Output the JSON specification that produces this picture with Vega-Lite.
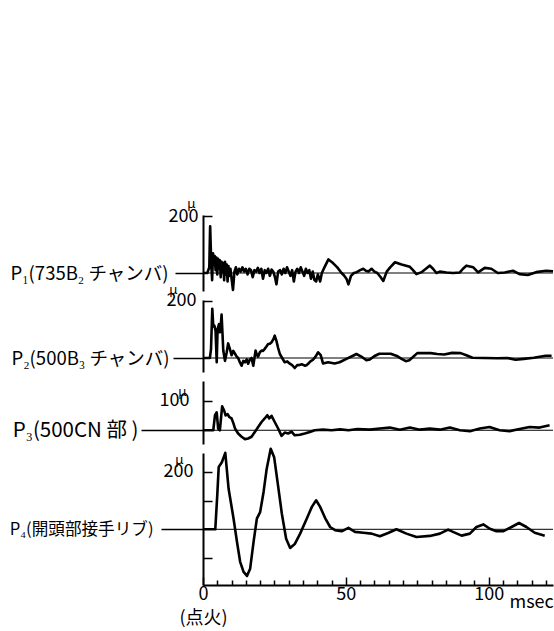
{
 "$schema": "https://vega.github.io/schema/vega-lite/v6.json",
 "background": "white",
 "padding": {"left": 9, "top": 198, "right": 0, "bottom": 0},
 "spacing": 9,
 "bounds": "flush",
 "config": {
  "view": {"stroke": null},
  "font": "Noto Sans CJK JP",
  "axis": {"grid": false, "domainColor": "black", "domainWidth": 2, "tickColor": "black", "tickWidth": 1.5, "labelColor": "black", "labelFont": "Noto Sans CJK JP", "labelFontSize": 18, "labelLimit": 0, "labelFlush": false, "labelOverlap": false, "labelBound": false, "titleColor": "black"},
  "axisQuantitative": {"labelOverlap": false},
  "axisX": {"labelOverlap": false}
 },
 "datasets": {
  "p1": [{"t":0,"v":0},{"t":1.5,"v":0},{"t":2.2,"v":20},{"t":2.5,"v":165},{"t":2.9,"v":30},{"t":3.2,"v":-25},{"t":3.5,"v":70},{"t":3.8,"v":30},{"t":4.1,"v":60},{"t":4.4,"v":10},{"t":4.7,"v":55},{"t":5.0,"v":-5},{"t":5.3,"v":50},{"t":5.6,"v":15},{"t":5.9,"v":45},{"t":6.2,"v":-15},{"t":6.5,"v":40},{"t":6.8,"v":5},{"t":7.1,"v":35},{"t":7.4,"v":-25},{"t":7.7,"v":40},{"t":8.0,"v":-5},{"t":8.3,"v":30},{"t":8.6,"v":-30},{"t":8.9,"v":25},{"t":9.2,"v":-10},{"t":9.6,"v":15},{"t":10.0,"v":-20},{"t":10.5,"v":-60},{"t":11.0,"v":5},{"t":11.5,"v":20},{"t":12.0,"v":-5},{"t":12.6,"v":15},{"t":13.2,"v":5},{"t":13.8,"v":20},{"t":14.4,"v":5},{"t":15.0,"v":15},{"t":15.6,"v":-5},{"t":16.2,"v":15},{"t":16.8,"v":10},{"t":17.4,"v":-15},{"t":18.0,"v":10},{"t":18.6,"v":5},{"t":19.2,"v":18},{"t":19.8,"v":0},{"t":20.4,"v":15},{"t":21.0,"v":-20},{"t":21.6,"v":10},{"t":22.2,"v":0},{"t":22.8,"v":15},{"t":23.4,"v":-10},{"t":24.0,"v":12},{"t":24.6,"v":5},{"t":25.2,"v":-15},{"t":25.7,"v":-40},{"t":26.3,"v":5},{"t":27.0,"v":10},{"t":27.6,"v":-5},{"t":28.2,"v":15},{"t":28.8,"v":0},{"t":29.4,"v":20},{"t":30.0,"v":5},{"t":30.6,"v":-10},{"t":31.2,"v":10},{"t":31.8,"v":-30},{"t":32.4,"v":5},{"t":33.0,"v":15},{"t":33.6,"v":0},{"t":34.2,"v":20},{"t":34.8,"v":5},{"t":35.4,"v":-10},{"t":36.0,"v":15},{"t":36.6,"v":0},{"t":37.2,"v":10},{"t":37.8,"v":-20},{"t":38.4,"v":5},{"t":39.0,"v":-25},{"t":39.6,"v":-30},{"t":40.2,"v":-5},{"t":41.0,"v":-30},{"t":41.6,"v":0},{"t":42.5,"v":20},{"t":43.9,"v":48},{"t":45.5,"v":35},{"t":47.0,"v":20},{"t":48.5,"v":0},{"t":49.3,"v":-8},{"t":50.2,"v":-20},{"t":50.9,"v":-40},{"t":51.8,"v":-10},{"t":52.8,"v":0},{"t":53.8,"v":3},{"t":55.0,"v":10},{"t":56.1,"v":15},{"t":57.0,"v":8},{"t":57.9,"v":5},{"t":59.0,"v":15},{"t":60.0,"v":5},{"t":61.0,"v":0},{"t":62.2,"v":-15},{"t":63.1,"v":-28},{"t":64.3,"v":5},{"t":65.5,"v":20},{"t":67.2,"v":38},{"t":69.5,"v":30},{"t":72.4,"v":22},{"t":73.5,"v":10},{"t":74.7,"v":-4},{"t":76.5,"v":3},{"t":78.0,"v":15},{"t":79.4,"v":26},{"t":80.5,"v":15},{"t":81.7,"v":0},{"t":82.9,"v":5},{"t":85.2,"v":2},{"t":87.5,"v":0},{"t":89.9,"v":2},{"t":91.0,"v":15},{"t":92.2,"v":26},{"t":94.6,"v":20},{"t":96.3,"v":2},{"t":98.6,"v":18},{"t":100.9,"v":15},{"t":103.2,"v":0},{"t":105.6,"v":2},{"t":108.5,"v":8},{"t":110.8,"v":-4},{"t":113.7,"v":-7},{"t":116.6,"v":3},{"t":120.1,"v":8},{"t":122.5,"v":6}],
  "p2": [{"t":0,"v":0},{"t":2.4,"v":0},{"t":2.8,"v":30},{"t":3.25,"v":172},{"t":3.6,"v":110},{"t":4.0,"v":113},{"t":4.4,"v":95},{"t":4.8,"v":-15},{"t":5.1,"v":100},{"t":5.6,"v":119},{"t":5.9,"v":90},{"t":6.2,"v":110},{"t":6.5,"v":152},{"t":6.8,"v":90},{"t":7.1,"v":26},{"t":7.7,"v":-10},{"t":8.3,"v":20},{"t":8.8,"v":51},{"t":9.4,"v":32},{"t":10.0,"v":10},{"t":10.6,"v":25},{"t":11.2,"v":15},{"t":11.8,"v":5},{"t":12.3,"v":0},{"t":12.9,"v":-15},{"t":13.5,"v":-27},{"t":14.1,"v":-10},{"t":14.7,"v":-15},{"t":15.3,"v":-5},{"t":15.8,"v":-20},{"t":16.4,"v":-5},{"t":17.0,"v":0},{"t":17.6,"v":-27},{"t":18.4,"v":26},{"t":18.9,"v":10},{"t":19.3,"v":5},{"t":19.9,"v":20},{"t":20.5,"v":26},{"t":21.0,"v":25},{"t":21.6,"v":32},{"t":22.2,"v":40},{"t":22.8,"v":49},{"t":23.4,"v":50},{"t":24.0,"v":55},{"t":24.6,"v":65},{"t":25.1,"v":78},{"t":25.7,"v":60},{"t":26.3,"v":35},{"t":26.9,"v":14},{"t":27.7,"v":0},{"t":28.6,"v":-15},{"t":29.5,"v":-12},{"t":30.4,"v":-20},{"t":31.2,"v":-25},{"t":32.1,"v":-35},{"t":33.0,"v":-25},{"t":33.9,"v":-24},{"t":34.7,"v":-22},{"t":35.6,"v":-27},{"t":36.2,"v":-25},{"t":36.8,"v":-20},{"t":37.6,"v":-12},{"t":38.5,"v":-6},{"t":39.4,"v":5},{"t":40.3,"v":20},{"t":41.2,"v":10},{"t":42.0,"v":-19},{"t":43.8,"v":-15},{"t":46.1,"v":-19},{"t":47.8,"v":-15},{"t":50.2,"v":-3},{"t":52.5,"v":8},{"t":53.7,"v":14},{"t":55.4,"v":5},{"t":57.2,"v":-8},{"t":58.4,"v":-5},{"t":59.9,"v":6},{"t":61.7,"v":15},{"t":65.7,"v":15},{"t":68.1,"v":6},{"t":69.5,"v":-3},{"t":71.0,"v":-11},{"t":72.2,"v":-8},{"t":73.3,"v":2},{"t":75.0,"v":17},{"t":79.7,"v":17},{"t":82.0,"v":14},{"t":84.4,"v":12},{"t":87.2,"v":18},{"t":90.2,"v":17},{"t":92.4,"v":9},{"t":94.3,"v":1},{"t":98.3,"v":0},{"t":103.0,"v":-1},{"t":106.5,"v":0},{"t":109.4,"v":-6},{"t":112.3,"v":-3},{"t":115.8,"v":1},{"t":119.9,"v":8},{"t":122,"v":8}],
  "p3": [{"t":0,"v":0},{"t":3.6,"v":0},{"t":4.2,"v":51},{"t":4.8,"v":61},{"t":5.3,"v":6},{"t":5.9,"v":0},{"t":6.7,"v":81},{"t":7.4,"v":67},{"t":7.9,"v":50},{"t":8.6,"v":55},{"t":9.2,"v":45},{"t":10.0,"v":40},{"t":10.6,"v":25},{"t":11.2,"v":6},{"t":12.3,"v":-11},{"t":13.5,"v":-22},{"t":14.7,"v":-30},{"t":15.8,"v":-28},{"t":17.0,"v":-22},{"t":18.2,"v":-5},{"t":19.3,"v":11},{"t":20.5,"v":28},{"t":21.6,"v":40},{"t":22.5,"v":51},{"t":23.2,"v":40},{"t":24.0,"v":49},{"t":25.1,"v":28},{"t":26.3,"v":6},{"t":27.5,"v":-19},{"t":28.6,"v":-8},{"t":29.8,"v":-11},{"t":31.0,"v":-5},{"t":32.1,"v":-17},{"t":33.9,"v":-15},{"t":35.6,"v":-11},{"t":37.4,"v":-6},{"t":39.1,"v":0},{"t":42,"v":2},{"t":45,"v":0},{"t":48,"v":3},{"t":51,"v":0},{"t":54,"v":4},{"t":58.4,"v":2},{"t":61.9,"v":6},{"t":65.4,"v":9},{"t":68.9,"v":2},{"t":72.4,"v":9},{"t":75.9,"v":2},{"t":79.4,"v":6},{"t":82.9,"v":2},{"t":86.4,"v":9},{"t":89.9,"v":0},{"t":93.4,"v":-3},{"t":96.9,"v":6},{"t":100.3,"v":11},{"t":103.8,"v":0},{"t":107.3,"v":-3},{"t":110.8,"v":4},{"t":114.3,"v":11},{"t":117.8,"v":9},{"t":121.3,"v":17}],
  "p4": [{"t":0,"v":0},{"t":4.3,"v":0},{"t":5.0,"v":120},{"t":5.5,"v":217},{"t":6.6,"v":233},{"t":7.8,"v":266},{"t":8.96,"v":141},{"t":10.7,"v":37},{"t":11.9,"v":-44},{"t":13.0,"v":-113},{"t":14.2,"v":-148},{"t":15.4,"v":-162},{"t":16.5,"v":-137},{"t":17.7,"v":-44},{"t":18.85,"v":37},{"t":20.0,"v":60},{"t":21.2,"v":130},{"t":22.3,"v":211},{"t":23.7,"v":280},{"t":24.9,"v":251},{"t":26.1,"v":164},{"t":27.6,"v":54},{"t":29.1,"v":-33},{"t":30.5,"v":-65},{"t":32.2,"v":-50},{"t":34.0,"v":-15},{"t":36.3,"v":37},{"t":38.1,"v":78},{"t":39.6,"v":101},{"t":41.0,"v":78},{"t":42.7,"v":40},{"t":44.5,"v":8},{"t":46.2,"v":-3},{"t":48.5,"v":-7},{"t":50.9,"v":5},{"t":53.2,"v":-9},{"t":56.1,"v":-12},{"t":59.0,"v":-15},{"t":61.9,"v":-24},{"t":64.8,"v":-13},{"t":67.7,"v":0},{"t":71.2,"v":-15},{"t":74.7,"v":-27},{"t":79.4,"v":-23},{"t":82.9,"v":-15},{"t":85.8,"v":-1},{"t":87.5,"v":-9},{"t":90.5,"v":-22},{"t":93.4,"v":-15},{"t":95.7,"v":8},{"t":98.1,"v":17},{"t":100.4,"v":2},{"t":102.7,"v":-7},{"t":105.0,"v":-7},{"t":108.0,"v":8},{"t":110.6,"v":22},{"t":113.2,"v":8},{"t":116.1,"v":-12},{"t":119.6,"v":-22}]
 },
 "vconcat": [
  {
   "width": 350, "height": 76,
   "layer": [
    {
     "data": {"name": "p1"},
     "mark": {"type": "line", "color": "black", "strokeWidth": 2.6, "strokeJoin": "round"},
     "encoding": {
      "x": {"field": "t", "type": "quantitative", "scale": {"domain": [0, 122.5], "nice": false, "zero": false}, "axis": null},
      "y": {"field": "v", "type": "quantitative", "scale": {"domain": [-63.6, 205], "nice": false, "zero": false},
            "axis": {"title": null, "values": [0, 100, 200], "labelOverlap": false, "labelExpr": "datum.value == 0 ? 'P₁(735B₂ チャンバ)' : datum.value == 200 ? '200' : ''",
                     "tickSize": {"condition": {"test": "datum.value == 0", "value": 28}, "value": -9},
                     "labelFontSize": {"condition": {"test": "datum.value == 0", "value": 18.5}, "value": 18},
                     "labelPadding": {"condition": {"test": "datum.value == 0", "value": 7}, "value": 14}}}
     }
    },
    {
     "data": {"values": [{}]},
     "mark": {"type": "rule", "color": "black", "strokeWidth": 1},
     "encoding": {"y": {"datum": 0, "type": "quantitative"}}
    },
    {
     "data": {"values": [{}]},
     "mark": {"type": "text", "text": "μ", "fontSize": 13, "font": "Noto Sans", "fill": "black"},
     "encoding": {"x": {"datum": -4.1, "type": "quantitative"}, "y": {"datum": 243, "type": "quantitative"}}
    }
   ]
  },
  {
   "width": 350, "height": 72,
   "layer": [
    {
     "data": {"name": "p2"},
     "mark": {"type": "line", "color": "black", "strokeWidth": 2.6, "strokeJoin": "round"},
     "encoding": {
      "x": {"field": "t", "type": "quantitative", "scale": {"domain": [0, 122.5], "nice": false, "zero": false}, "axis": null},
      "y": {"field": "v", "type": "quantitative", "scale": {"domain": [-49, 203], "nice": false, "zero": false},
            "axis": {"title": null, "values": [0, 100, 200], "labelOverlap": false, "labelExpr": "datum.value == 0 ? 'P₂(500B₃ チャンバ)' : datum.value == 200 ? '200' : ''",
                     "tickSize": {"condition": {"test": "datum.value == 0", "value": 30}, "value": -9},
                     "labelFontSize": {"condition": {"test": "datum.value == 0", "value": 18.5}, "value": 18},
                     "labelPadding": {"condition": {"test": "datum.value == 0", "value": 4}, "value": 16}}}
     }
    },
    {
     "data": {"values": [{}]},
     "mark": {"type": "rule", "color": "black", "strokeWidth": 1},
     "encoding": {"y": {"datum": 0, "type": "quantitative"}}
    },
    {
     "data": {"values": [{}]},
     "mark": {"type": "text", "text": "μ", "fontSize": 13, "font": "Noto Sans", "fill": "black"},
     "encoding": {"x": {"datum": -10.4, "type": "quantitative"}, "y": {"datum": 238, "type": "quantitative"}}
    }
   ]
  },
  {
   "width": 350, "height": 63,
   "layer": [
    {
     "data": {"name": "p3"},
     "mark": {"type": "line", "color": "black", "strokeWidth": 2.6, "strokeJoin": "round"},
     "encoding": {
      "x": {"field": "t", "type": "quantitative", "scale": {"domain": [0, 122.5], "nice": false, "zero": false}, "axis": null},
      "y": {"field": "v", "type": "quantitative", "scale": {"domain": [-46.6, 167], "nice": false, "zero": false},
            "axis": {"title": null, "values": [0, 100], "labelOverlap": false, "labelExpr": "datum.value == 0 ? 'P₃(500CN 部 )' : datum.value == 100 ? '100' : ''",
                     "tickSize": {"condition": {"test": "datum.value == 0", "value": 62}, "value": -9},
                     "labelFontSize": {"condition": {"test": "datum.value == 0", "value": 20.5}, "value": 18},
                     "labelPadding": {"condition": {"test": "datum.value == 0", "value": 3}, "value": 23}}}
     }
    },
    {
     "data": {"values": [{}]},
     "mark": {"type": "rule", "color": "black", "strokeWidth": 1},
     "encoding": {"y": {"datum": 0, "type": "quantitative"}}
    },
    {
     "data": {"values": [{}]},
     "mark": {"type": "text", "text": "μ", "fontSize": 13, "font": "Noto Sans", "fill": "black"},
     "encoding": {"x": {"datum": -7.2, "type": "quantitative"}, "y": {"datum": 130, "type": "quantitative"}}
    }
   ]
  },
  {
   "width": 350, "height": 132,
   "layer": [
    {
     "data": {"name": "p4"},
     "mark": {"type": "line", "color": "black", "strokeWidth": 2.6, "strokeJoin": "round"},
     "encoding": {
      "x": {"field": "t", "type": "quantitative", "scale": {"domain": [0, 122.5], "nice": false, "zero": false},
            "axis": {"title": "msec", "titleX": 306, "titleY": 22, "titleAlign": "left", "titleBaseline": "alphabetic", "titleFontWeight": "normal", "titleFontSize": 18, "titleFont": "Noto Sans CJK JP",
                     "values": [0,5,10,15,20,25,30,35,40,45,50,55,60,65,70,75,80,85,90,95,100,105,110,115,120],
                     "labelOverlap": false, "labelFlush": false, "labelBound": false,
                     "labelExpr": "datum.value == 0 ? ['0', '(点火)'] : (datum.value == 50 ? '50' : (datum.value == 100 ? '100' : ''))",
                     "tickSize": {"condition": {"test": "datum.value % 50 == 0", "value": -8}, "value": -5},
                     "labelPadding": 8, "labelLineHeight": 24, "labelBaseline": "top"}},
      "y": {"field": "v", "type": "quantitative", "scale": {"domain": [-193.7, 265.4], "nice": false, "zero": false},
            "axis": {"title": null, "values": [-100, 0, 100, 200], "labelOverlap": false, "labelExpr": "datum.value == 0 ? 'P₄(開頭部接手リブ)' : datum.value == 200 ? '200' : ''",
                     "tickSize": {"condition": {"test": "datum.value == 0", "value": 42}, "value": -9},
                     "labelFontSize": {"condition": {"test": "datum.value == 0", "value": 16.6}, "value": 18},
                     "labelPadding": {"condition": {"test": "datum.value == 0", "value": 8}, "value": 19}}}
     }
    },
    {
     "data": {"values": [{}]},
     "mark": {"type": "rule", "color": "black", "strokeWidth": 1},
     "encoding": {"y": {"datum": 0, "type": "quantitative"}}
    },
    {
     "data": {"values": [{}]},
     "mark": {"type": "text", "text": "μ", "fontSize": 13, "font": "Noto Sans", "fill": "black"},
     "encoding": {"x": {"datum": -8.3, "type": "quantitative",
                        "axis": {"title": "msec", "titleX": 306, "titleY": 22, "titleAlign": "left", "titleBaseline": "alphabetic", "titleFontWeight": "normal", "titleFontSize": 18, "titleFont": "Noto Sans CJK JP",
                     "values": [0,5,10,15,20,25,30,35,40,45,50,55,60,65,70,75,80,85,90,95,100,105,110,115,120],
                     "labelOverlap": false, "labelFlush": false, "labelBound": false,
                     "labelExpr": "datum.value == 0 ? ['0', '(点火)'] : (datum.value == 50 ? '50' : (datum.value == 100 ? '100' : ''))",
                     "tickSize": {"condition": {"test": "datum.value % 50 == 0", "value": -8}, "value": -5},
                     "labelPadding": 8, "labelLineHeight": 24, "labelBaseline": "top"}},
                  "y": {"datum": 241, "type": "quantitative"}}
    }
   ]
  }
 ]
}
